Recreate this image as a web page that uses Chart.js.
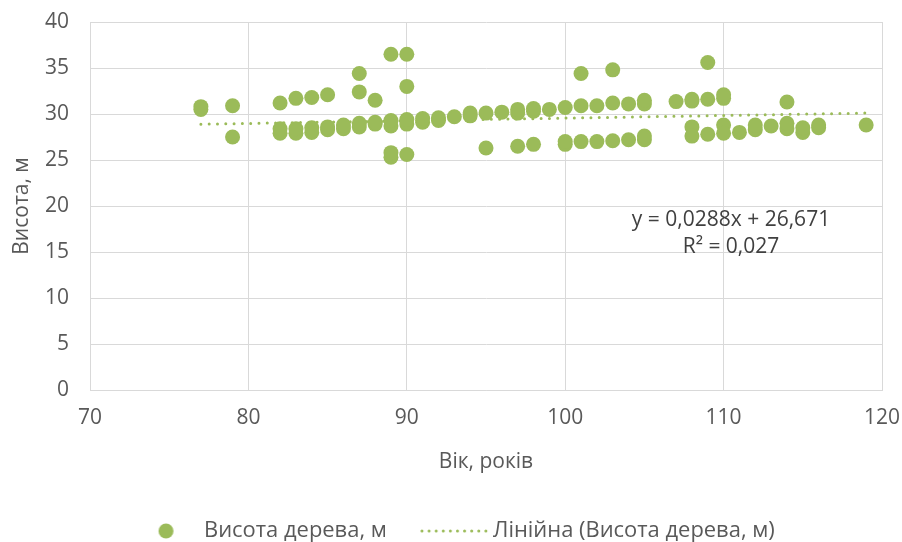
<!DOCTYPE html>
<html>
<head>
<meta charset="utf-8">
<script src="https://cdn.jsdelivr.net/npm/chart.js@4/dist/chart.umd.min.js"></script>
<style>
  html, body { margin: 0; padding: 0; background: #ffffff; }
  #wrap { width: 902px; height: 542px; }
</style>
</head>
<body>
<div id="wrap"><canvas id="c" width="902" height="542"></canvas></div>
<script>
// ---------- data ----------
const ages = [
  77, 77,
  79, 79,
  82, 82, 82,
  83, 83, 83,
  84, 84, 84,
  85, 85, 85,
  86, 86,
  87, 87, 87, 87,
  88, 88, 88,
  89, 89, 89, 89, 89,
  90, 90, 90, 90, 90,
  91, 91,
  92, 92,
  93,
  94, 94,
  95, 95,
  96,
  97, 97, 97,
  98, 98, 98,
  99,
  100, 100, 100,
  101, 101, 101,
  102, 102,
  103, 103, 103,
  104, 104,
  105, 105, 105, 105,
  107,
  108, 108, 108, 108,
  109, 109, 109,
  110, 110, 110, 110,
  111,
  112, 112,
  113,
  114, 114, 114,
  115, 115,
  116, 116,
  119
];
const heights = [
  30.5, 30.8,
  30.9, 27.5,
  31.2, 27.9, 28.4,
  31.7, 27.9, 28.4,
  31.8, 28.0, 28.5,
  32.1, 28.3, 28.6,
  28.4, 28.8,
  34.4, 32.4, 28.6, 29.0,
  31.5, 28.9, 29.1,
  36.5, 28.7, 29.3, 25.3, 25.8,
  36.5, 33.0, 28.9, 29.4, 25.6,
  29.1, 29.5,
  29.3, 29.6,
  29.7,
  29.8, 30.1,
  30.1, 26.3,
  30.2,
  30.1, 30.5, 26.5,
  30.3, 30.6, 26.7,
  30.5,
  30.7, 26.7, 27.0,
  34.4, 30.9, 27.0,
  30.9, 27.0,
  34.8, 31.2, 27.1,
  31.1, 27.2,
  31.1, 31.5, 27.2, 27.6,
  31.35,
  31.4, 31.6, 28.6, 27.6,
  35.6, 31.6, 27.8,
  31.7, 32.1, 28.8, 27.9,
  28.0,
  28.3, 28.8,
  28.7,
  31.3, 28.4, 29.0,
  28.0, 28.5,
  28.5, 28.8,
  28.8
];
const trendSlope = 0.0288;
const trendIntercept = 26.671;
const trendRange = [77, 119];
const trendLabelLines = ["y = 0,0288x + 26,671", "R² = 0,027"];
const seriesNames = ["Висота дерева, м", "Лінійна (Висота дерева, м)"];
const xTitle = "Вік, років";
const yTitle = "Висота, м";
const xTickValues = [70, 80, 90, 100, 110, 120];
const yTickValues = [0, 5, 10, 15, 20, 25, 30, 35, 40];

// ---------- style ----------
const GREEN = "#9BBB59";
const GRID = "#d9d9d9";
const TXT = "#595959";
const FAMILY = "'Open Sans', sans-serif";
const FS = 21;

// ---------- legend geometry (matched to reference) ----------
const measureCtx = document.createElement("canvas").getContext("2d");
function textW(s, size) { measureCtx.font = size + "px " + FAMILY; return measureCtx.measureText(s).width; }
const legSize = FS * 465 / (textW(seriesNames[0], FS) + textW(seriesNames[1], FS));
const t1 = textW(seriesNames[0], legSize);
const t2 = textW(seriesNames[1], legSize);
const text1X = 204, text2X = 493, legendAreaW = 882, legendY = 531;
let legPad = legendAreaW - t1 - t2 - 2 * text1X;
if (legPad < 1) legPad = 1;
const boxW = (text2X - text1X) - t1 - legPad - legSize / 2;
const box1C = text1X - legSize / 2 - boxW / 2;
const box2C = text2X - legSize / 2 - boxW / 2;
const legendH = (542 - legendY) + legPad + legSize / 2;
const plotBottom = 390;
const xAxisH = 542 - plotBottom - legendH;
const xTitlePadBottom = (542 - legendH) - 462 - FS / 2;

function makeCircleIcon(cx) {
  const dx = cx - box1C, r = 7.5;
  const w = Math.ceil(2 * (Math.abs(dx) + r + 2)), h = 20;
  const c = document.createElement("canvas"); c.width = w; c.height = h;
  const g = c.getContext("2d");
  g.fillStyle = GREEN; g.beginPath(); g.arc(w / 2 + dx, h / 2, r, 0, Math.PI * 2); g.fill();
  return c;
}
function makeLineIcon(x0, x1) {
  const a = x0 - box2C, b = x1 - box2C;
  const w = Math.ceil(2 * (Math.max(Math.abs(a), Math.abs(b)) + 4)), h = 10;
  const c = document.createElement("canvas"); c.width = w; c.height = h;
  const g = c.getContext("2d");
  g.strokeStyle = GREEN; g.lineWidth = 3; g.lineCap = "round"; g.setLineDash([0, 7.1]);
  g.beginPath(); g.moveTo(w / 2 + a, h / 2); g.lineTo(w / 2 + b, h / 2); g.stroke();
  return c;
}
const icon1 = makeCircleIcon(166);
const icon2 = makeLineIcon(422, 486);

function noScalePadding(s) {
  s.paddingTop = 0; s.paddingBottom = 0; s.paddingLeft = 0; s.paddingRight = 0;
}

const trendLabelPlugin = {
  id: "trendLabel",
  afterDatasetsDraw(chart) {
    const g = chart.ctx;
    g.save();
    g.fillStyle = "#404040";
    g.font = FS + "px " + FAMILY;
    g.textAlign = "center";
    g.textBaseline = "middle";
    g.fillText(trendLabelLines[0], 731, 220);
    g.fillText(trendLabelLines[1], 731, 247);
    g.restore();
  }
};

const chart = new Chart(document.getElementById("c"), {
  type: "scatter",
  data: {
    datasets: [
      {
        label: seriesNames[0],
        data: ages.map((a, i) => ({ x: a, y: heights[i] })),
        backgroundColor: GREEN,
        borderColor: GREEN,
        borderWidth: 0,
        pointRadius: 7.5,
        pointHoverRadius: 7.5
      },
      {
        type: "line",
        label: seriesNames[1],
        data: trendRange.map(x => ({ x: x, y: trendSlope * x + trendIntercept })),
        borderColor: GREEN,
        borderWidth: 3,
        borderDash: [0, 8.3],
        borderCapStyle: "round",
        pointRadius: 0,
        fill: false,
        tension: 0
      }
    ]
  },
  options: {
    responsive: false,
    animation: false,
    events: [],
    layout: { padding: { top: 22, right: 20, bottom: 0, left: 0 } },
    scales: {
      x: {
        type: "linear",
        min: xTickValues[0],
        max: xTickValues[xTickValues.length - 1],
        afterBuildTicks(s) { s.ticks = xTickValues.map(v => ({ value: v })); },
        afterFit(s) { s.height = xAxisH; noScalePadding(s); },
        grid: { color: GRID, lineWidth: 1, drawTicks: false },
        border: { color: GRID, width: 1 },
        ticks: { color: TXT, font: { family: FAMILY, size: FS }, padding: 15 },
        title: { display: true, text: xTitle, color: TXT, font: { family: FAMILY, size: FS, lineHeight: 1 }, padding: { top: 0, bottom: xTitlePadBottom } }
      },
      y: {
        type: "linear",
        min: yTickValues[0],
        max: yTickValues[yTickValues.length - 1],
        afterBuildTicks(s) { s.ticks = yTickValues.map(v => ({ value: v })); },
        afterFit(s) { s.width = 90; noScalePadding(s); },
        grid: { color: GRID, lineWidth: 1, drawTicks: false },
        border: { color: GRID, width: 1 },
        ticks: { color: TXT, font: { family: FAMILY, size: FS }, padding: 21 },
        title: { display: true, text: yTitle, color: TXT, font: { family: FAMILY, size: FS, lineHeight: 1 }, padding: { top: 22 - FS / 2, bottom: 0 } }
      }
    },
    plugins: {
      tooltip: { enabled: false },
      legend: {
        position: "bottom",
        maxHeight: legendH,
        labels: {
          usePointStyle: true,
          pointStyleWidth: boxW,
          boxHeight: legSize,
          padding: legPad,
          color: TXT,
          font: { family: FAMILY, size: legSize },
          generateLabels() {
            return [
              { text: seriesNames[0], pointStyle: icon1, fillStyle: GREEN, strokeStyle: GREEN, lineWidth: 0, hidden: false, datasetIndex: 0, fontColor: TXT },
              { text: seriesNames[1], pointStyle: icon2, fillStyle: GREEN, strokeStyle: GREEN, lineWidth: 0, hidden: false, datasetIndex: 1, fontColor: TXT }
            ];
          }
        }
      }
    }
  },
  plugins: [trendLabelPlugin]
});
</script>
</body>
</html>
